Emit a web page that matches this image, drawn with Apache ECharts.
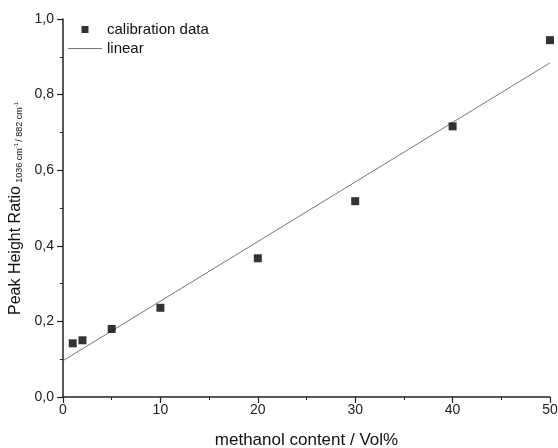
<!DOCTYPE html>
<html>
<head>
<meta charset="utf-8">
<script src="https://cdn.jsdelivr.net/npm/echarts@6/dist/echarts.min.js"></script>
<style>
  html, body { margin: 0; padding: 0; background: #fff; }
  #chart { width: 558px; height: 448px; }
</style>
</head>
<body>
<div id="chart"></div>
<script>
// calibration measurements
var concentration = [1, 2, 5, 10, 20, 30, 40, 50];
var peakRatio = [0.142, 0.150, 0.180, 0.236, 0.367, 0.518, 0.716, 0.944];

// linear fit, end points
var fitX = [0, 50];
var fitY = [0.096, 0.884];

var xTicks = [0, 10, 20, 30, 40, 50];
var yTicks = [0, 0.2, 0.4, 0.6, 0.8, 1.0];

var chart = echarts.init(document.getElementById('chart'));

var font = 'Liberation Sans, Arial, sans-serif';

var option = {
  backgroundColor: '#fff',
  animation: false,
  textStyle: { fontFamily: font },
  grid: { left: 63, right: 8, top: 19, bottom: 51, containLabel: false, outerBoundsMode: 'none' },
  legend: {
    orient: 'vertical',
    left: 68,
    top: 22,
    padding: 0,
    itemWidth: 34,
    itemHeight: 7,
    itemGap: 4,
    symbolKeepAspect: true,
    textStyle: { fontFamily: font, fontSize: 15, color: '#111' },
    data: [
      { name: 'calibration data', icon: 'path://M0,0h8v8h-8z', itemStyle: { color: '#000' } },
      { name: 'linear', icon: 'path://M0,0h34v1h-34z', itemStyle: { color: '#777' } }
    ]
  },
  xAxis: {
    type: 'value',
    min: xTicks[0],
    max: xTicks[xTicks.length - 1],
    interval: 10,
    name: 'methanol content / Vol%',
    nameLocation: 'middle',
    nameGap: 35,
    nameTextStyle: { fontSize: 17, color: '#111' },
    axisLine: { lineStyle: { color: '#222', width: 1.5 } },
    axisTick: { length: 6, lineStyle: { color: '#222', width: 1.2 } },
    minorTick: { show: true, splitNumber: 2, length: 3, lineStyle: { color: '#222', width: 1 } },
    splitLine: { show: false },
    axisLabel: { fontSize: 14, color: '#222', margin: 6 }
  },
  yAxis: {
    type: 'value',
    min: yTicks[0],
    max: yTicks[yTicks.length - 1],
    interval: 0.2,
    name: '{main|Peak Height Ratio} {sub|1036 cm}{sup|-1}{sub|/ 882 cm}{sup|-1}',
    nameLocation: 'middle',
    nameGap: 38,
    nameTextStyle: {
      color: '#111',
      rich: {
        main: { fontSize: 16, color: '#111', fontFamily: font },
        sub: { fontSize: 9, color: '#111', fontFamily: font, verticalAlign: 'bottom' },
        sup: { fontSize: 6, color: '#111', fontFamily: font, verticalAlign: 'bottom', padding: [0, 1, 4, 0] }
      }
    },
    axisLine: { show: true, lineStyle: { color: '#222', width: 1.5 } },
    axisTick: { show: true, length: 6, lineStyle: { color: '#222', width: 1.2 } },
    minorTick: { show: true, splitNumber: 2, length: 3, lineStyle: { color: '#222', width: 1 } },
    splitLine: { show: false },
    axisLabel: {
      fontSize: 14,
      color: '#222',
      margin: 9,
      formatter: function (v) { return v.toFixed(1).replace('.', ','); }
    }
  },
  series: [
    {
      name: 'calibration data',
      type: 'scatter',
      symbol: 'rect',
      symbolSize: 8,
      itemStyle: { color: '#000' },
      data: concentration.map(function (c, i) { return [c, peakRatio[i]]; }),
      z: 3
    },
    {
      name: 'linear',
      type: 'line',
      symbol: 'none',
      showSymbol: false,
      lineStyle: { color: '#777', width: 1 },
      itemStyle: { color: '#777' },
      data: fitX.map(function (x, i) { return [x, fitY[i]]; }),
      z: 2
    }
  ]
};

chart.setOption(option);
</script>
</body>
</html>
